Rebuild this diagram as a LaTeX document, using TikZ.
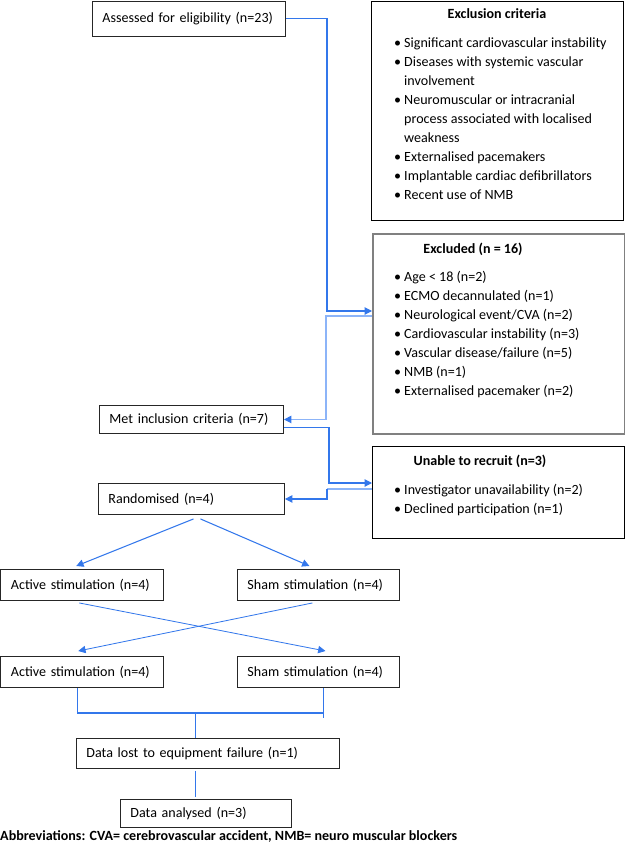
\documentclass[tikz,border=0pt]{standalone}
\usepackage{fontspec}
\setmainfont{Carlito}
\usetikzlibrary{arrows.meta,calc}

\definecolor{flowblue}{RGB}{51,119,235}
\definecolor{flowlight}{RGB}{140,180,248}

\newcommand{\itm}{\makebox[3mm][l]{\textbullet}}
\newcommand{\cont}{\hspace*{3mm}}

\tikzset{
  box/.style={draw=black!85, line width=0.8pt, anchor=north west, align=left,
    inner xsep=3mm, inner ysep=0pt, font=\fontsize{12}{16.2}\selectfont},
  frame/.style={draw=black, line width=0.8pt, anchor=north west, inner sep=0pt},
  listtext/.style={anchor=base west, align=left, inner sep=0pt,
    font=\fontsize{12}{16.2}\selectfont},
  title/.style={anchor=base, inner sep=0pt, font=\fontsize{12}{16.2}\selectfont\bfseries},
  flow/.style={draw=flowblue, line width=0.9pt,
    -{Triangle[length=2.2mm,width=2.2mm]}},
  flowlt/.style={draw=flowlight, line width=0.9pt,
    -{Triangle[length=2.2mm,width=2.2mm,color=flowblue]}},
  link/.style={draw=flowblue, line width=0.85pt},
}

\begin{document}
\begin{tikzpicture}[x=0.03cm,y=-0.03cm]
    \useasboundingbox (0,0) rectangle (625,846);

    % left column boxes
    \node[box, text width=51.9mm, minimum height=10.5mm] (assess) at (92,1) {Assessed for eligibility (n=23)};
    \node[box, text width=49.2mm, minimum height=8.4mm] (met) at (99,405) {Met inclusion criteria (n=7)};
    \node[box, text width=49.8mm, minimum height=9.3mm] (rand) at (98,483) {Randomised (n=4)};
    \node[box, text width=42.75mm, minimum height=9.3mm] (act1) at (0.5,569) {Active stimulation (n=4)};
    \node[box, text width=42.6mm, minimum height=9.3mm] (sham1) at (237,569) {Sham stimulation (n=4)};
    \node[box, text width=42.75mm, minimum height=9.3mm] (act2) at (0.5,656) {Active stimulation (n=4)};
    \node[box, text width=42.6mm, minimum height=9.3mm] (sham2) at (237,656) {Sham stimulation (n=4)};
    \node[box, text width=72.9mm, minimum height=9mm] (lost) at (76,738) {Data lost to equipment failure (n=1)};
    \node[box, text width=45.3mm, minimum height=8.4mm] (anal) at (120,799) {Data analysed (n=3)};

    % right column boxes (list anchored at its last line)
    \node[frame, minimum width=75.6mm, minimum height=65.7mm] (exclcrit) at (371,1) {};
    \node[frame, draw=black!50, line width=1.3pt, minimum width=75.6mm, minimum height=60mm] (excluded) at (372,233) {};
    \node[frame, minimum width=75.6mm, minimum height=27.6mm] (unable) at (372,446) {};

    \node[title] (exclcrit-t) at (497,19) {Exclusion criteria};
    \node[listtext] (exclcrit-l) at (394,199) {%
      \itm Significant cardiovascular instability\\
      \itm Diseases with systemic vascular\\
      \cont involvement\\
      \itm Neuromuscular or intracranial\\
      \cont process associated with localised\\
      \cont weakness\\
      \itm Externalised pacemakers\\
      \itm Implantable cardiac defibrillators\\
      \itm Recent use of NMB};

    \node[title] (excluded-t) at (473,253) {Excluded (n = 16)};
    \node[listtext] (excluded-l) at (394,395) {%
      \itm Age < 18 (n=2)\\
      \itm ECMO decannulated (n=1)\\
      \itm Neurological event/CVA (n=2)\\
      \itm Cardiovascular instability (n=3)\\
      \itm Vascular disease/failure (n=5)\\
      \itm NMB (n=1)\\
      \itm Externalised pacemaker (n=2)};

    \node[title] (unable-t) at (480,465) {Unable to recruit (n=3)};
    \node[listtext] (unable-l) at (394,513) {%
      \itm Investigator unavailability (n=2)\\
      \itm Declined participation (n=1)};

    % elbow connectors
    \coordinate (j1) at (327,311);
    \coordinate (j2) at (326,316);
    \coordinate (j3) at (329,483);
    \coordinate (j4) at (327,489);
    \draw[flow] (assess.east) -| (j1) -- (j1 -| excluded.west);
    \draw[flowlt] (j2 -| excluded.west) -- (j2) |- (met.east);
    \draw[flow] (met.east) ++(0,8) -| (j3) -- (j3 -| unable.west);
    \draw[flowlt, -] (j4 -| unable.west) -- (j4);
    \draw[flow] (j4) |- (rand.east);

    % randomisation and crossover
    \draw[flow] ($(rand.south)+(2,4)$) -- ($(act1.north)+(-6,-3)$);
    \draw[flow] ($(rand.south)+(9,4)$) -- ($(sham1.north)+(-9,-3)$);
    \draw[flow, line width=0.7pt] ($(act1.south)+(-3,2)$) -- ($(sham2.north)+(7,-5)$);
    \draw[flow, line width=0.7pt] ($(sham1.south)+(-6,2)$) -- ($(act2.north)+(-4,-5)$);

    % merge to data
    \coordinate (b1) at (77,713);
    \coordinate (b2) at (323,713);
    \coordinate (b3) at (195,713);
    \draw[link] (act2.south -| b1) -- (b1);
    \draw[link] (sham2.south -| b2) -- ++(0,30);
    \draw[link, line width=1.3pt] (b1) -- (b2);
    \draw[link] (b3) -- (b3 |- lost.north);
    \draw[link, shorten <=0.6mm, shorten >=0.6mm] (b3 |- lost.south) -- (b3 |- anal.north);

    \node[anchor=base west, inner sep=0pt, font=\fontsize{12}{14}\selectfont\bfseries] (abbr) at (0,840)
      {Abbreviations: CVA= cerebrovascular accident, NMB= neuro muscular blockers};
\end{tikzpicture}
\end{document}
